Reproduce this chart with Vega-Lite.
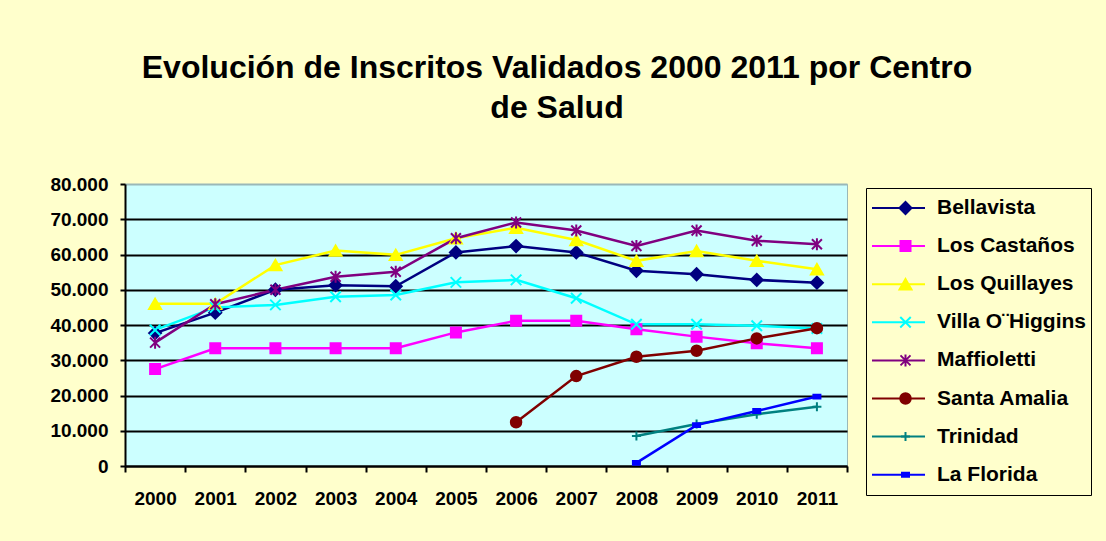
{
  "$schema": "https://vega.github.io/schema/vega-lite/v6.json",
  "width": 722,
  "height": 282,
  "autosize": "none",
  "padding": {"left": 125, "top": 184, "right": 259, "bottom": 75},
  "background": "#FFFFCC",
  "title": {
    "text": ["Evolución de Inscritos Validados 2000 2011 por Centro", "de Salud"],
    "font": "Liberation Sans",
    "fontSize": 32,
    "fontWeight": "bold",
    "color": "black",
    "anchor": "middle",
    "frame": "group",
    "dx": 71,
    "offset": 50,
    "lineHeight": 40
  },
  "config": {
    "view": {"fill": "#CCFFFF", "stroke": "#9AB8B8", "strokeWidth": 1},
    "font": "Liberation Sans"
  },
  "data": {
    "values": [
      {"year": "2000", "centro": "Bellavista", "value": 37700},
      {"year": "2001", "centro": "Bellavista", "value": 43500},
      {"year": "2002", "centro": "Bellavista", "value": 50000},
      {"year": "2003", "centro": "Bellavista", "value": 51300},
      {"year": "2004", "centro": "Bellavista", "value": 51000},
      {"year": "2005", "centro": "Bellavista", "value": 60600},
      {"year": "2006", "centro": "Bellavista", "value": 62400},
      {"year": "2007", "centro": "Bellavista", "value": 60600},
      {"year": "2008", "centro": "Bellavista", "value": 55400},
      {"year": "2009", "centro": "Bellavista", "value": 54400},
      {"year": "2010", "centro": "Bellavista", "value": 52800},
      {"year": "2011", "centro": "Bellavista", "value": 52000},
      {"year": "2000", "centro": "Los Castaños", "value": 27500},
      {"year": "2001", "centro": "Los Castaños", "value": 33400},
      {"year": "2002", "centro": "Los Castaños", "value": 33400},
      {"year": "2003", "centro": "Los Castaños", "value": 33400},
      {"year": "2004", "centro": "Los Castaños", "value": 33400},
      {"year": "2005", "centro": "Los Castaños", "value": 37900},
      {"year": "2006", "centro": "Los Castaños", "value": 41200},
      {"year": "2007", "centro": "Los Castaños", "value": 41200},
      {"year": "2008", "centro": "Los Castaños", "value": 38800},
      {"year": "2009", "centro": "Los Castaños", "value": 36700},
      {"year": "2010", "centro": "Los Castaños", "value": 34800},
      {"year": "2011", "centro": "Los Castaños", "value": 33400},
      {"year": "2000", "centro": "Los Quillayes", "value": 46000},
      {"year": "2001", "centro": "Los Quillayes", "value": 46000},
      {"year": "2002", "centro": "Los Quillayes", "value": 57000},
      {"year": "2003", "centro": "Los Quillayes", "value": 61100},
      {"year": "2004", "centro": "Los Quillayes", "value": 59900},
      {"year": "2005", "centro": "Los Quillayes", "value": 64600},
      {"year": "2006", "centro": "Los Quillayes", "value": 67600},
      {"year": "2007", "centro": "Los Quillayes", "value": 64100},
      {"year": "2008", "centro": "Los Quillayes", "value": 58200},
      {"year": "2009", "centro": "Los Quillayes", "value": 61000},
      {"year": "2010", "centro": "Los Quillayes", "value": 58200},
      {"year": "2011", "centro": "Los Quillayes", "value": 55800},
      {"year": "2000", "centro": "Villa O¨Higgins", "value": 38600},
      {"year": "2001", "centro": "Villa O¨Higgins", "value": 45000},
      {"year": "2002", "centro": "Villa O¨Higgins", "value": 45700},
      {"year": "2003", "centro": "Villa O¨Higgins", "value": 48000},
      {"year": "2004", "centro": "Villa O¨Higgins", "value": 48500},
      {"year": "2005", "centro": "Villa O¨Higgins", "value": 52100},
      {"year": "2006", "centro": "Villa O¨Higgins", "value": 52800},
      {"year": "2007", "centro": "Villa O¨Higgins", "value": 47600},
      {"year": "2008", "centro": "Villa O¨Higgins", "value": 40200},
      {"year": "2009", "centro": "Villa O¨Higgins", "value": 40200},
      {"year": "2010", "centro": "Villa O¨Higgins", "value": 39800},
      {"year": "2011", "centro": "Villa O¨Higgins", "value": 39000},
      {"year": "2000", "centro": "Maffioletti", "value": 35000},
      {"year": "2001", "centro": "Maffioletti", "value": 45900},
      {"year": "2002", "centro": "Maffioletti", "value": 50000},
      {"year": "2003", "centro": "Maffioletti", "value": 53700},
      {"year": "2004", "centro": "Maffioletti", "value": 55100},
      {"year": "2005", "centro": "Maffioletti", "value": 64600},
      {"year": "2006", "centro": "Maffioletti", "value": 69100},
      {"year": "2007", "centro": "Maffioletti", "value": 66800},
      {"year": "2008", "centro": "Maffioletti", "value": 62400},
      {"year": "2009", "centro": "Maffioletti", "value": 66800},
      {"year": "2010", "centro": "Maffioletti", "value": 63900},
      {"year": "2011", "centro": "Maffioletti", "value": 62900},
      {"year": "2006", "centro": "Santa Amalia", "value": 12400},
      {"year": "2007", "centro": "Santa Amalia", "value": 25500},
      {"year": "2008", "centro": "Santa Amalia", "value": 31000},
      {"year": "2009", "centro": "Santa Amalia", "value": 32700},
      {"year": "2010", "centro": "Santa Amalia", "value": 36200},
      {"year": "2011", "centro": "Santa Amalia", "value": 39100},
      {"year": "2008", "centro": "Trinidad", "value": 8500},
      {"year": "2009", "centro": "Trinidad", "value": 11900},
      {"year": "2010", "centro": "Trinidad", "value": 14700},
      {"year": "2011", "centro": "Trinidad", "value": 16800},
      {"year": "2008", "centro": "La Florida", "value": 900},
      {"year": "2009", "centro": "La Florida", "value": 11600},
      {"year": "2010", "centro": "La Florida", "value": 15600},
      {"year": "2011", "centro": "La Florida", "value": 19700}
    ]
  },
  "encoding": {
    "x": {
      "field": "year",
      "type": "ordinal",
      "scale": {"type": "band", "paddingInner": 0, "paddingOuter": 0},
      "axis": {
        "title": null,
        "labelAngle": 0,
        "labelFont": "Liberation Sans",
        "labelFontSize": 19,
        "labelFontWeight": "bold",
        "labelColor": "black",
        "tickBand": "extent",
        "tickSize": 6,
        "tickColor": "black",
        "tickWidth": 2,
        "domainColor": "black",
        "domainWidth": 2,
        "labelPadding": 17,
        "grid": false
      }
    },
    "y": {
      "field": "value",
      "type": "quantitative",
      "scale": {"domain": [0, 80000], "nice": false},
      "axis": {
        "title": null,
        "values": [0, 10000, 20000, 30000, 40000, 50000, 60000, 70000, 80000],
        "labelExpr": "replace(format(datum.value, ',d'), ',', '.')",
        "labelFont": "Liberation Sans",
        "labelFontSize": 19,
        "labelFontWeight": "bold",
        "labelColor": "black",
        "tickSize": 5,
        "tickColor": "black",
        "tickWidth": 2,
        "domainColor": "black",
        "domainWidth": 2,
        "labelPadding": 12,
        "grid": true,
        "gridColor": {"condition": {"test": "datum.value === 80000", "value": "#9AB8B8"}, "value": "black"},
        "gridWidth": 2,
        "gridOpacity": 1
      }
    }
  },
  "layer": [
    {
      "mark": {"type": "line", "strokeWidth": 2.5},
      "encoding": {
        "color": {
          "field": "centro",
          "type": "nominal",
          "scale": {
            "domain": ["Bellavista", "Los Castaños", "Los Quillayes", "Villa O¨Higgins", "Maffioletti", "Santa Amalia", "Trinidad", "La Florida"],
            "range": ["#000080", "#FF00FF", "#FFFF00", "#00FFFF", "#800080", "#800000", "#008080", "#0000FF"]
          },
          "legend": {
            "orient": "none", "legendX": 741, "legendY": 4, "title": null,
            "strokeColor": "black", "fillColor": "#FFFFCC", "padding": 5,
            "symbolType": "stroke", "symbolSize": 2809, "symbolStrokeWidth": 2,
            "labelOffset": 11, "labelFont": "Liberation Sans", "labelFontSize": 21,
            "labelFontWeight": "bold", "labelColor": "black",
            "clipHeight": 30, "rowPadding": 8.1
          }
        }
      }
    },
    {
      "mark": {"type": "point", "filled": true, "strokeWidth": 2, "opacity": 1},
      "encoding": {
        "fill": {
          "field": "centro", "type": "nominal",
          "scale": {
            "domain": ["Bellavista", "Los Castaños", "Los Quillayes", "Villa O¨Higgins", "Maffioletti", "Santa Amalia", "Trinidad", "La Florida"],
            "range": ["#000080", "#FF00FF", "#FFFF00", "#00FFFF", "#800080", "#800000", "#008080", "#0000FF"]
          },
          "legend": {"orient": "none", "legendX": 765, "legendY": 4, "title": null, "padding": 5, "labelExpr": "''", "labelFontSize": 21, "clipHeight": 30, "rowPadding": 8.1, "symbolStrokeWidth": 2, "symbolOpacity": 1}
        },
        "stroke": {
          "field": "centro", "type": "nominal",
          "scale": {
            "domain": ["Bellavista", "Los Castaños", "Los Quillayes", "Villa O¨Higgins", "Maffioletti", "Santa Amalia", "Trinidad", "La Florida"],
            "range": ["#000080", "#FF00FF", "#FFFF00", "#00FFFF", "#800080", "#800000", "#008080", "#0000FF"]
          },
          "legend": {"orient": "none", "legendX": 765, "legendY": 4, "title": null, "padding": 5, "labelExpr": "''", "labelFontSize": 21, "clipHeight": 30, "rowPadding": 8.1, "symbolStrokeWidth": 2, "symbolOpacity": 1}
        },
        "shape": {
          "field": "centro", "type": "nominal",
          "scale": {
            "domain": ["Bellavista", "Los Castaños", "Los Quillayes", "Villa O¨Higgins", "Maffioletti", "Santa Amalia", "Trinidad", "La Florida"],
            "range": ["diamond", "square", "triangle-up", "M-1,-1L1,1M-1,1L1,-1", "M-1,-1L1,1M-1,1L1,-1M0,-1.2L0,1.2", "circle", "M-1,0L1,0M0,-1L0,1", "M-1,-0.55H1V0.55H-1Z"]
          },
          "legend": {"orient": "none", "legendX": 765, "legendY": 4, "title": null, "padding": 5, "labelExpr": "''", "labelFontSize": 21, "clipHeight": 30, "rowPadding": 8.1, "symbolStrokeWidth": 2, "symbolOpacity": 1}
        },
        "size": {
          "field": "centro", "type": "nominal",
          "scale": {
            "type": "ordinal",
            "domain": ["Bellavista", "Los Castaños", "Los Quillayes", "Villa O¨Higgins", "Maffioletti", "Santa Amalia", "Trinidad", "La Florida"],
            "range": [144, 100, 144, 110, 100, 110, 81, 49]
          },
          "legend": {"orient": "none", "legendX": 765, "legendY": 4, "title": null, "padding": 5, "labelExpr": "''", "labelFontSize": 21, "clipHeight": 30, "rowPadding": 8.1, "symbolStrokeWidth": 2, "symbolOpacity": 1}
        }
      }
    }
  ],
  "resolve": {"legend": {"color": "independent", "fill": "independent", "stroke": "independent", "shape": "independent", "size": "independent"}}
}
